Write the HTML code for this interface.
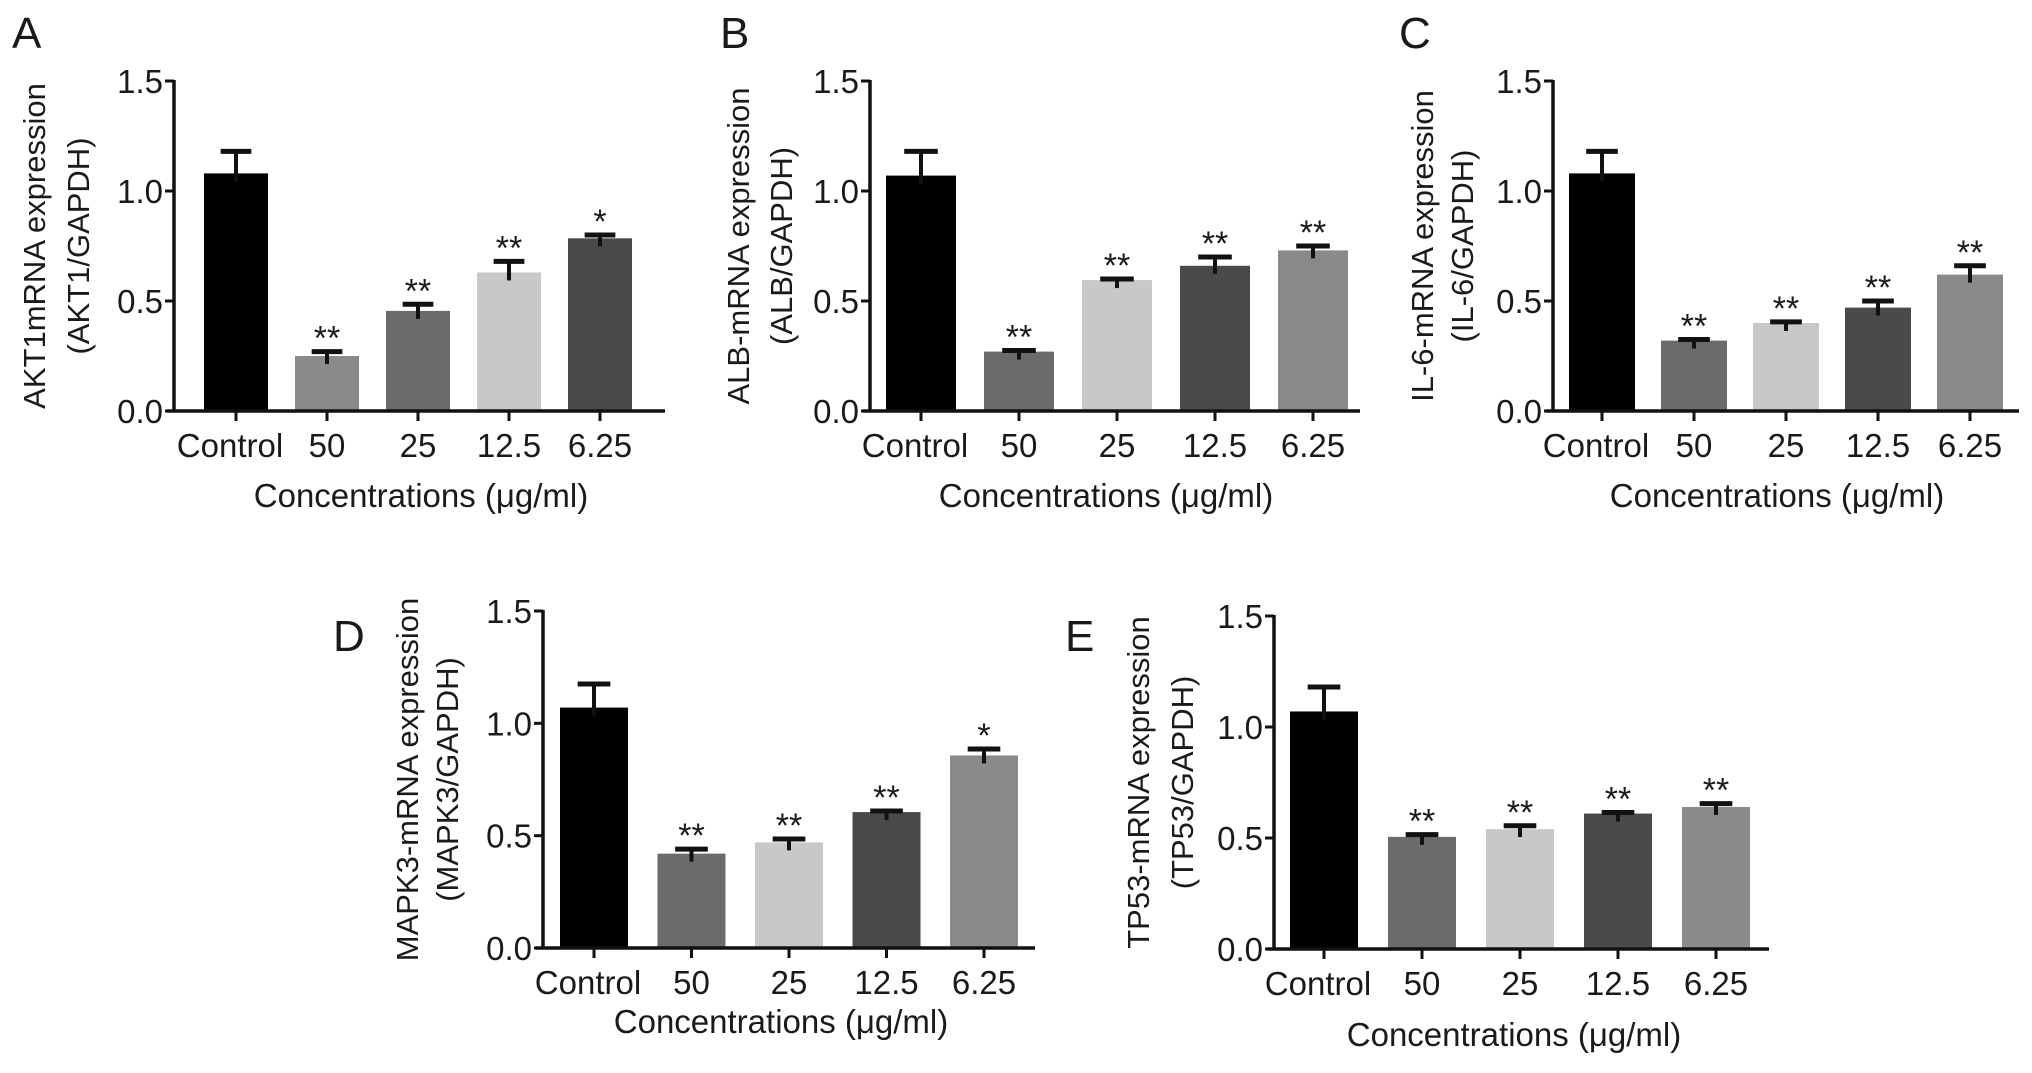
<!DOCTYPE html>
<html>
<head>
<meta charset="utf-8">
<style>
  html, body { margin: 0; padding: 0; background: #fff; }
  svg { display: block; }
  text { font-family: "Liberation Sans", Arial, sans-serif; fill: #1a1a1a; }
</style>
</head>
<body>
<svg id="fig" width="2032" height="1073" viewBox="0 0 2032 1073" xmlns="http://www.w3.org/2000/svg"></svg>
<script>
const categories = ["Control", "50", "25", "12.5", "6.25"];
const yTicks = [0, 0.5, 1.0, 1.5];
const yTickLabels = ["0.0", "0.5", "1.0", "1.5"];

const akt1Values = [1.08, 0.25, 0.455, 0.63, 0.785];
const akt1ErrTop = [1.18, 0.27, 0.485, 0.68, 0.80];
const akt1Stars = ["", "**", "**", "**", "*"];

const albValues = [1.07, 0.27, 0.595, 0.66, 0.73];
const albErrTop = [1.18, 0.275, 0.60, 0.70, 0.75];
const albStars = ["", "**", "**", "**", "**"];

const il6Values = [1.08, 0.32, 0.40, 0.47, 0.62];
const il6ErrTop = [1.18, 0.325, 0.405, 0.50, 0.66];
const il6Stars = ["", "**", "**", "**", "**"];

const mapk3Values = [1.07, 0.42, 0.47, 0.605, 0.857];
const mapk3ErrTop = [1.175, 0.44, 0.485, 0.61, 0.886];
const mapk3Stars = ["", "**", "**", "**", "*"];

const tp53Values = [1.07, 0.505, 0.54, 0.61, 0.64];
const tp53ErrTop = [1.18, 0.515, 0.555, 0.615, 0.655];
const tp53Stars = ["", "**", "**", "**", "**"];

const NS = "http://www.w3.org/2000/svg";
const svg = document.getElementById("fig");

function mk(tag, attrs, parent) {
  const e = document.createElementNS(NS, tag);
  for (const k in attrs) e.setAttribute(k, attrs[k]);
  (parent || svg).appendChild(e);
  return e;
}

function drawPanel(p) {
  const g = mk("g", {});
  
  
  const yScale = v => p.y0 - (p.y0 - p.y15) * v / 1.5;
  const xLeft = i => p.first + i * p.pitch;
  const xCenter = i => xLeft(i) + p.w / 2;

  const L = mk("text", {x: p.lx, y: p.ly, "font-size": 44}, g);
  L.textContent = p.letter;
  
  

  p.values.forEach((v, i) => {
    const r = mk("rect", {x: xLeft(i), y: yScale(v), width: p.w, height: p.y0 - yScale(v), fill: p.colors[i]}, g);
    
    
    const cx = xCenter(i);
    const et = yScale(p.err[i]);
    const el = mk("line", {x1: cx, x2: cx, y1: yScale(v) + 8, y2: et, stroke: "#111", "stroke-width": 4}, g);
    
    
    const cap = mk("line", {x1: cx - p.w * 0.24, x2: cx + p.w * 0.24, y1: et, y2: et, stroke: "#111", "stroke-width": 5}, g);
    
    
    if (p.stars[i]) {
      const s = mk("text", {x: cx, y: et - 2, "font-size": 34, "text-anchor": "middle"}, g);
      s.textContent = p.stars[i];
      
      
    }
    const t = mk("line", {x1: cx, x2: cx, y1: p.y0, y2: p.y0 + 10, stroke: "#111", "stroke-width": 3}, g);
    
    
    const tl = mk("text", {x: cx + (i === 0 ? -6 : 0), y: p.y0 + 46, "font-size": 33, "text-anchor": "middle"}, g);
    tl.textContent = categories[i];
    
    
  });

  const ya = mk("line", {x1: p.ax, x2: p.ax, y1: p.y15 - 1, y2: p.y0 + 1.5, stroke: "#111", "stroke-width": 3.5}, g);
  
  
  const xa = mk("line", {x1: p.ax - 7, x2: p.end, y1: p.y0, y2: p.y0, stroke: "#111", "stroke-width": 3.5}, g);
  
  

  yTicks.forEach((v, i) => {
    const y = yScale(v);
    const t = mk("line", {x1: p.ax - 9, x2: p.ax, y1: y, y2: y, stroke: "#111", "stroke-width": 3}, g);
    
    
    const tl = mk("text", {x: p.ax - 11, y: y + 12, "font-size": 33, "text-anchor": "end"}, g);
    tl.textContent = yTickLabels[i];
    
    
  });

  const xt = mk("text", {x: p.xtx, y: p.xty, "font-size": 33, "text-anchor": "middle"}, g);
  xt.textContent = "Concentrations (\u03bcg/ml)";
  
  

  const cy = (p.y0 + p.y15) / 2;
  const yt1 = mk("text", {x: 0, y: 0, "font-size": 31, "text-anchor": "middle", transform: `translate(${p.yt1},${cy}) rotate(-90)`}, g);
  yt1.textContent = p.title1;
  
  
  const yt2 = mk("text", {x: 0, y: 0, "font-size": 31, "text-anchor": "middle", transform: `translate(${p.yt2},${cy}) rotate(-90)`}, g);
  yt2.textContent = p.title2;
  
  
}

const K = "#000", G8 = "#8a8a8a", G6 = "#6b6b6b", GL = "#c8c8c8", G4 = "#4a4a4a";

drawPanel({letter: "A", lx: 12, ly: 48, ax: 174, first: 204, w: 64, pitch: 91, end: 665, y15: 81, y0: 411,
  values: akt1Values, err: akt1ErrTop, stars: akt1Stars, colors: [K, G8, G6, GL, G4],
  xtx: 421, xty: 507, yt1: 45, yt2: 89, title1: "AKT1mRNA expression", title2: "(AKT1/GAPDH)"});
drawPanel({letter: "B", lx: 720, ly: 48, ax: 870, first: 886, w: 70, pitch: 98, end: 1360, y15: 81, y0: 411,
  values: albValues, err: albErrTop, stars: albStars, colors: [K, G6, GL, G4, G8],
  xtx: 1106, xty: 507, yt1: 749, yt2: 792, title1: "ALB-mRNA expression", title2: "(ALB/GAPDH)"});
drawPanel({letter: "C", lx: 1399, ly: 48, ax: 1553, first: 1569, w: 66, pitch: 92, end: 2019, y15: 81, y0: 411,
  values: il6Values, err: il6ErrTop, stars: il6Stars, colors: [K, G6, GL, G4, G8],
  xtx: 1777, xty: 507, yt1: 1433, yt2: 1473, title1: "IL-6-mRNA expression", title2: "(IL-6/GAPDH)"});
drawPanel({letter: "D", lx: 333, ly: 651, ax: 543, first: 560, w: 68, pitch: 97.5, end: 1035, y15: 611, y0: 948,
  values: mapk3Values, err: mapk3ErrTop, stars: mapk3Stars, colors: [K, G6, GL, G4, G8],
  xtx: 781, xty: 1033, yt1: 418, yt2: 458, title1: "MAPK3-mRNA expression", title2: "(MAPK3/GAPDH)"});
drawPanel({letter: "E", lx: 1065, ly: 651, ax: 1274, first: 1290, w: 68, pitch: 98, end: 1769, y15: 616, y0: 949,
  values: tp53Values, err: tp53ErrTop, stars: tp53Stars, colors: [K, G6, GL, G4, G8],
  xtx: 1514, xty: 1046, yt1: 1149, yt2: 1193, title1: "TP53-mRNA expression", title2: "(TP53/GAPDH)"});
</script>
</body>
</html>
